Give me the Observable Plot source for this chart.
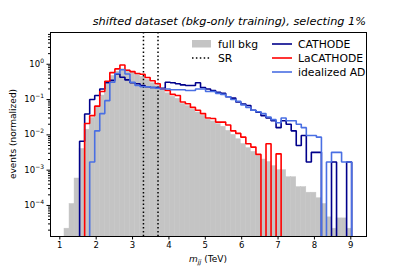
<!DOCTYPE html>
<html><head><meta charset="utf-8">
<script src="https://cdn.jsdelivr.net/npm/d3@7"></script>
<script src="https://cdn.jsdelivr.net/npm/@observablehq/plot@0.6"></script>
<style>body{margin:0;background:#fff}#chart{width:407px;height:271px}</style>
</head><body><div id="chart"></div>
<script>
const binEdges = [1.129,1.2675,1.406,1.5445,1.683,1.8215,1.96,2.0985,2.237,2.3755,2.514,2.6525,2.791,2.9295,3.068,3.2065,3.345,3.4835,3.622,3.7605,3.899,4.0375,4.176,4.3145,4.453,4.5915,4.73,4.8685,5.007,5.1455,5.284,5.4225,5.561,5.6995,5.838,5.9765,6.115,6.2535,6.392,6.5305,6.669,6.8075,6.946,7.0845,7.223,7.3615,7.5,7.6385,7.777,7.9155,8.054,8.1925,8.331,8.4695,8.608,8.7465,8.885,9.0235];
const fullBkg = [2.2e-5,1.1e-4,5.8e-4,0.004,0.014,0.03,0.06,0.13,0.27,0.47,0.62,0.72,0.68,0.6,0.5,0.44,0.36,0.29,0.24,0.18,0.15,0.12,0.105,0.075,0.065,0.052,0.043,0.035,0.027,0.024,0.02,0.017,0.013,0.01,0.0075,0.0055,0.0042,0.0033,0.0025,0.002,0.0017,0.0013,0.001,0.001,6.3e-4,6.3e-4,3.3e-4,3.3e-4,2.3e-4,2.3e-4,1.6e-4,1.1e-4,4.6e-5,2.2e-5,4.3e-5,4.3e-5,2.2e-5];
const cathode = [0,0,0,0.0066,0.039,0.1,0.13,0.2,0.3,0.35,0.53,0.43,0.36,0.3,0.28,0.25,0.23,0.22,0.22,0.21,0.31,0.3,0.28,0.26,0.25,0.25,0.3,0.22,0.2,0.18,0.16,0.15,0.12,0.11,0.085,0.075,0.068,0.05,0.044,0.035,0.03,0.025,0.016,0.025,0.02,0.013,0.005,0.0096,0.0017,0.0032,0.0032,0,0,0.0017,0,0,0.0017];
const laCathode = [0,0,0,0,0.021,0.035,0.065,0.17,0.33,0.58,0.74,0.95,0.68,0.62,0.55,0.52,0.42,0.34,0.28,0.2,0.18,0.14,0.13,0.085,0.076,0.06,0.05,0.04,0.03,0.029,0.023,0.023,0.019,0.013,0.011,0.0086,0.0056,0.0045,0.0028,0,0.0056,0,0.0029,0,0,0,0,0,0,0,0,0,0,0,0,0,0];
const idealAD = [0,0,0,0,0,0.0017,0.013,0.04,0.093,0.31,0.55,0.7,0.53,0.31,0.25,0.23,0.23,0.22,0.21,0.2,0.2,0.19,0.19,0.19,0.18,0.18,0.2,0.2,0.17,0.17,0.15,0.14,0.12,0.1,0.09,0.07,0.06,0.05,0.045,0.04,0.032,0.027,0.022,0.03,0.025,0.025,0.02,0.016,0.0096,0.0096,0.0086,0,0.0017,0.0032,0.0032,0.0017,0.0017];
const srEdges = [3.3, 3.7];
const xTicks = [1,2,3,4,5,6,7,8,9];
const yTicks = [1e-4,1e-3,1e-2,1e-1,1];
const yTickExps = ["−4","−3","−2","−1","0"];
const seriesNames = ["CATHODE","LaCATHODE","idealized AD"];
const seriesColors = ["#00008b","#ff0000","#4a6fe3"];
const titleText = "shifted dataset (bkg-only training), selecting 1%";

const FLOOR = 1e-9;
const W = 407, H = 271, mL = 50, mR = 41, mT = 32, mB = 35;

function stepPts(vals){
  const pts = [{x: binEdges[0], y: FLOOR}];
  vals.forEach((v,i)=>{ const y = v>0 ? v : FLOOR; pts.push({x: binEdges[i], y}); pts.push({x: binEdges[i+1], y}); });
  pts.push({x: binEdges[vals.length], y: FLOOR});
  return pts;
}
const grayBins = fullBkg.map((v,i)=>({x1: binEdges[i], x2: binEdges[i+1], v})).filter(d=>d.v>0);
const minor = [];
for (let k=-5;k<=0;k++) for (let m=2;m<=9;m++) { const v = m*Math.pow(10,k); if (v>1.32e-5 && v<7.9) minor.push(v); }

const lines = [cathode, laCathode, idealAD].map((s,j)=>Plot.line(stepPts(s), {x:"x", y:"y", stroke: seriesColors[j], strokeWidth: 1.6, clip: true, strokeLinejoin:"miter"}));

const svg = Plot.plot({
  width: W, height: H, marginLeft: mL, marginRight: mR, marginTop: mT, marginBottom: mB,
  style: {fontFamily: "DejaVu Sans", fontSize: "8px", background: "#fff", color: "#000"},
  x: {domain: [0.7443, 9.4316]},
  y: {type: "log", domain: [1.32e-5, 7.94]},
  marks: [
    Plot.rect(grayBins, {x1:"x1", x2:"x2", y1: FLOOR, y2:"v", fill:"#c4c4c4", stroke:"#c6c6c6", strokeWidth:0.5, clip:true}),
    Plot.ruleX(srEdges, {stroke:"#000", strokeWidth:1.5, strokeDasharray:"1.5,2.4"}),
    ...lines,
    Plot.frame({stroke:"#000", strokeWidth:1}),
    Plot.axisX({ticks: xTicks, tickSize: 3.5, tickPadding: 2, tickFormat: d=>String(d), label: null, fontSize: 8.5}),
    Plot.axisY({ticks: minor, tickSize: 2, text: null, label: null}),
    Plot.axisY({ticks: yTicks, tickSize: 3.5, text: null, label: null})
  ]
});
document.getElementById("chart").appendChild(svg);

const s = d3.select(svg);
const ys = svg.scale("y");
yTicks.forEach((v,i)=>{
  const t = s.append("text").attr("x", mL-6).attr("y", ys.apply(v)+3).attr("text-anchor","end")
    .attr("font-family","DejaVu Sans").attr("font-size", 8.5).attr("fill","#000");
  t.append("tspan").text("10");
  t.append("tspan").attr("font-size", 6).attr("dy", -4).text(yTickExps[i]);
});
s.append("text").attr("x", W-mR).attr("y", 25).attr("text-anchor","end")
  .attr("font-style","italic").attr("font-size", 11.3).attr("font-family","DejaVu Sans").attr("fill","#000").text(titleText);
s.append("text").attr("transform", `translate(13,${(mT+H-mB)/2}) rotate(-90)`).attr("text-anchor","middle")
  .attr("dominant-baseline","middle").attr("font-size", 9).attr("font-family","DejaVu Sans").text("events (normalized)");
const xl = s.append("text").attr("x", (mL+W-mR)/2).attr("y", 262).attr("text-anchor","middle").attr("font-size", 9).attr("font-family","DejaVu Sans");
xl.append("tspan").attr("font-style","italic").text("m");
xl.append("tspan").attr("font-style","italic").attr("font-size", 6.5).attr("dy", 2).text("jj");
xl.append("tspan").attr("dy", -2).text(" (TeV)");
const lg = s.append("g").attr("font-family","DejaVu Sans").attr("font-size", 10.8).attr("fill","#000").attr("text-anchor","start");
lg.append("rect").attr("x",192).attr("y",40).attr("width",19).attr("height",7.5).attr("fill","#c4c4c4");
lg.append("text").attr("x",218).attr("y",44).attr("dy","0.35em").text("full bkg");
lg.append("line").attr("x1",192).attr("x2",211).attr("y1",58).attr("y2",58).attr("stroke","#000").attr("stroke-width",1.5).attr("stroke-dasharray","1.5,2.4");
lg.append("text").attr("x",218).attr("y",58).attr("dy","0.35em").text("SR");
seriesNames.forEach((n,j)=>{
  const y = 44 + 14*j;
  lg.append("line").attr("x1",272).attr("x2",292).attr("y1",y).attr("y2",y).attr("stroke",seriesColors[j]).attr("stroke-width",1.6);
  lg.append("text").attr("x",298).attr("y",y).attr("dy","0.35em").text(n);
});
</script></body></html>
